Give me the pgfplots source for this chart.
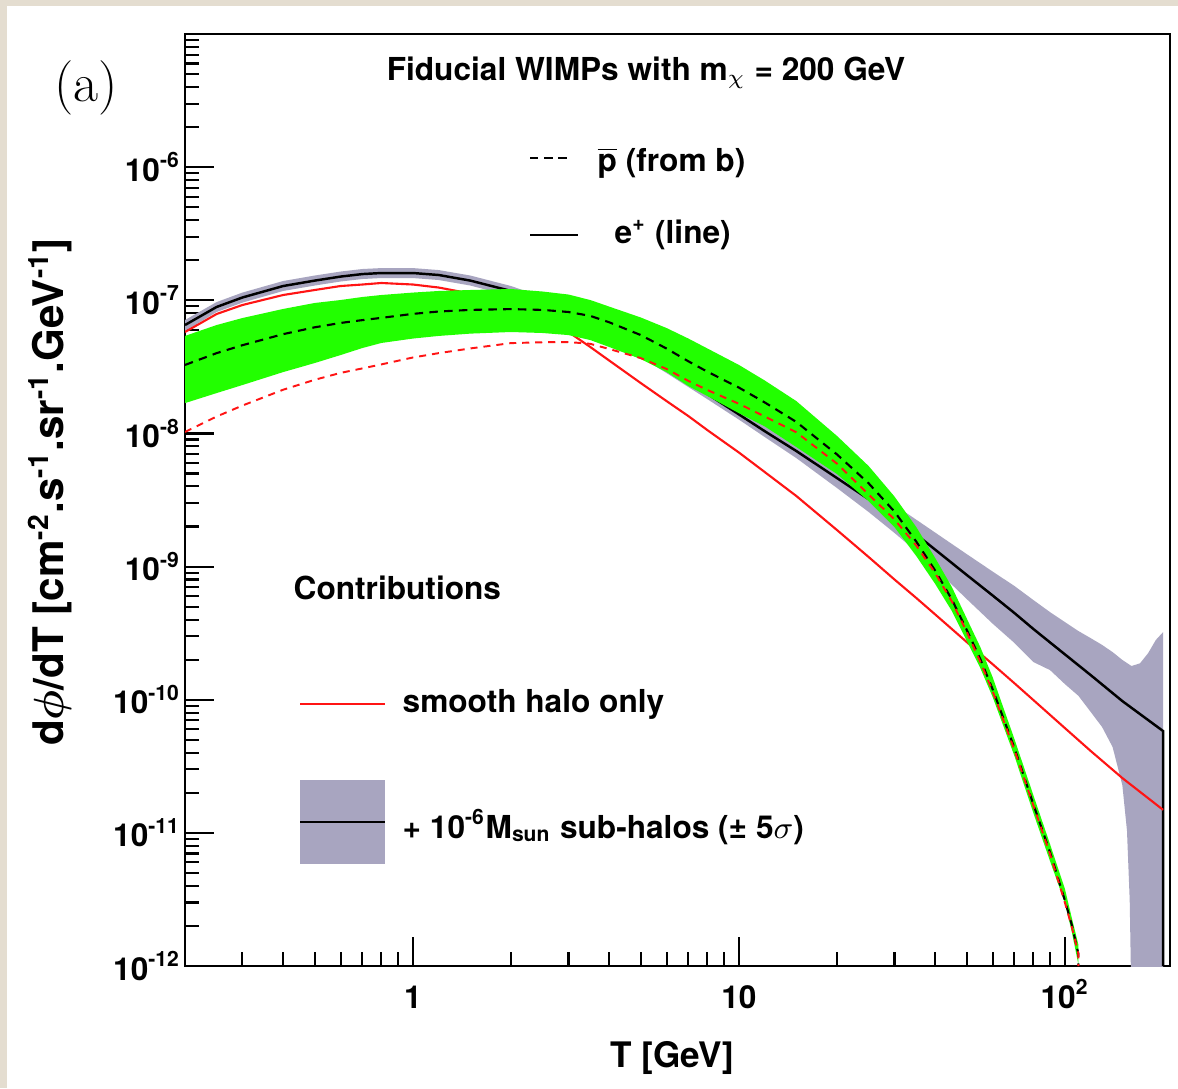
\documentclass[border=0pt]{standalone}
\usepackage{fontspec}
\usepackage{bm}
\usepackage{pgfplots}
\pgfplotsset{compat=1.18}
\newfontfamily\hv{TeX Gyre Heros}
\newcommand\tf{\hv\bfseries\fontsize{9}{10}\selectfont}
\definecolor{paper}{RGB}{228,221,208}
\definecolor{subhalo}{RGB}{168,165,192}
\definecolor{pbarband}{RGB}{34,255,0}
\definecolor{smoothred}{RGB}{255,20,20}

\begin{document}
\begin{tikzpicture}[x=1cm,y=1cm]
% page and its margin
\path[use as bounding box] (0,0) rectangle (11.78,10.88);
\fill[paper] (0,0) rectangle (11.78,10.88);
\fill[white] (0.07,0) rectangle (11.78,10.82);

\begin{axis}[
  at={(1.85cm,1.22cm)}, anchor=south west,
  width=9.85cm, height=9.32cm, scale only axis,
  xmode=log, ymode=log,
  xmin=0.2, xmax=210, ymin=1e-12, ymax=1e-5,
  axis line style={line width=0.75pt},
  tick align=inside, xtick pos=bottom, ytick pos=left,
  major tick length=0.29cm, minor tick length=0.14cm,
  every tick/.style={black, line width=0.6pt},
  xtick={1,10,100},
  xticklabels={1,10,10\textsuperscript{2}},
  minor xtick={0.3,0.4,0.5,0.6,0.7,0.8,0.9,2,3,4,5,6,7,8,9,20,30,40,50,60,70,80,90},
  ytick={1e-12,1e-11,1e-10,1e-9,1e-8,1e-7,1e-6},
  yticklabels={10\textsuperscript{-12},10\textsuperscript{-11},10\textsuperscript{-10},10\textsuperscript{-9},10\textsuperscript{-8},10\textsuperscript{-7},10\textsuperscript{-6}},
  minor ytick={2e-12,3e-12,4e-12,5e-12,6e-12,7e-12,8e-12,9e-12,
               2e-11,3e-11,4e-11,5e-11,6e-11,7e-11,8e-11,9e-11,
               2e-10,3e-10,4e-10,5e-10,6e-10,7e-10,8e-10,9e-10,
               2e-9,3e-9,4e-9,5e-9,6e-9,7e-9,8e-9,9e-9,
               2e-8,3e-8,4e-8,5e-8,6e-8,7e-8,8e-8,9e-8,
               2e-7,3e-7,4e-7,5e-7,6e-7,7e-7,8e-7,9e-7,
               2e-6,3e-6,4e-6,5e-6,6e-6,7e-6,8e-6,9e-6},
  ticklabel style={font=\tf},
  xticklabel style={anchor=base, yshift=-0.42cm},
  yticklabel style={xshift=0.08cm},
]

% e+ with sub-halos: +/- 5 sigma band
\addplot[fill=subhalo, draw=none] coordinates {
 (0.2,7.11e-8) (0.25,9.70e-8) (0.3,1.143e-7) (0.4,1.396e-7) (0.5,1.535e-7)
 (0.6,1.644e-7) (0.7,1.718e-7) (0.8,1.746e-7) (1,1.746e-7) (1.2,1.687e-7)
 (1.5,1.535e-7) (2,1.28e-7) (2.5,1.059e-7) (3,8.67e-8) (3.5,7.23e-8)
 (4,6.14e-8) (5,4.46e-8) (6,3.38e-8) (7,2.65e-8) (8,2.16e-8) (10,1.51e-8)
 (12,1.16e-8) (15,8.34e-9) (20,5.41e-9) (25,3.89e-9) (30,2.90e-9)
 (35,2.25e-9) (40,1.80e-9) (50,1.24e-9) (60,9.18e-10) (70,7.15e-10)
 (80,5.61e-10) (90,4.55e-10) (100,3.83e-10) (110,3.28e-10) (120,2.90e-10)
 (130,2.58e-10) (140,2.28e-10) (150,1.99e-10) (160,1.79e-10) (170,1.88e-10)
 (180,2.24e-10) (190,2.81e-10) (200,3.22e-10)
 (200,5e-13) (160,5e-13)
 (158,3.13e-12) (155,1.04e-11) (150,2.28e-11) (140,4.42e-11) (130,6.24e-11)
 (120,8.09e-11) (110,1.07e-10) (100,1.31e-10) (90,1.67e-10) (80,1.92e-10)
 (70,2.67e-10) (60,3.73e-10) (50,5.70e-10) (40,9.66e-10) (35,1.30e-9)
 (30,1.79e-9) (25,2.57e-9) (20,3.89e-9) (15,6.53e-9) (12,9.40e-9)
 (10,1.27e-8) (8,1.81e-8) (7,2.23e-8) (6,2.84e-8) (5,3.75e-8) (4,5.16e-8)
 (3.5,6.08e-8) (3,7.30e-8) (2.5,8.91e-8) (2,1.076e-7) (1.5,1.291e-7)
 (1.2,1.42e-7) (1,1.470e-7) (0.8,1.470e-7) (0.7,1.445e-7) (0.6,1.384e-7)
 (0.5,1.291e-7) (0.4,1.175e-7) (0.3,9.61e-8) (0.25,8.17e-8) (0.2,5.87e-8)
} -- cycle;

% e+ with sub-halos: central line
\addplot[black, line width=0.7pt] coordinates {
 (0.2,6.52e-8) (0.25,8.91e-8) (0.3,1.05e-7) (0.4,1.28e-7) (0.5,1.406e-7)
 (0.6,1.507e-7) (0.7,1.574e-7) (0.8,1.603e-7) (1,1.603e-7) (1.2,1.549e-7)
 (1.5,1.406e-7) (2,1.175e-7) (2.5,9.70e-8) (3,7.96e-8) (3.5,6.64e-8)
 (4,5.62e-8) (5,4.09e-8) (6,3.10e-8) (7,2.43e-8) (8,1.98e-8) (10,1.39e-8)
 (12,1.04e-8) (15,7.38e-9) (20,4.62e-9) (25,3.21e-9) (30,2.32e-9)
 (35,1.74e-9) (40,1.34e-9) (50,8.65e-10) (60,6.07e-10) (70,4.48e-10)
 (80,3.40e-10) (100,2.19e-10) (120,1.53e-10) (150,9.77e-11) (200,5.82e-11)
 (200,1e-12)
};

% e+ from the smooth halo only
\addplot[smoothred, line width=0.6pt] coordinates {
 (0.2,5.78e-8) (0.25,7.89e-8) (0.3,9.22e-8) (0.4,1.096e-7) (0.5,1.195e-7)
 (0.6,1.28e-7) (0.7,1.314e-7) (0.8,1.349e-7) (1,1.314e-7) (1.2,1.247e-7)
 (1.5,1.125e-7) (2,9.22e-8) (2.5,7.36e-8) (3,5.78e-8) (3.5,4.46e-8)
 (4,3.53e-8) (5,2.39e-8) (6,1.75e-8) (7,1.35e-8) (8,1.06e-8) (10,7.19e-9)
 (12,5.13e-9) (15,3.39e-9) (20,1.88e-9) (25,1.18e-9) (30,8.0e-10)
 (35,5.81e-10) (40,4.37e-10) (50,2.71e-10) (60,1.85e-10) (70,1.33e-10)
 (80,9.95e-11) (100,6.12e-11) (120,4.12e-11) (150,2.58e-11) (200,1.49e-11)
};

% antiprotons with sub-halos: +/- 5 sigma band
\addplot[fill=pbarband, draw=none] coordinates {
 (0.2,5.40e-8) (0.25,6.52e-8) (0.3,7.36e-8) (0.4,8.61e-8) (0.5,9.55e-8)
 (0.6,1.005e-7) (0.7,1.059e-7) (0.8,1.096e-7) (1,1.143e-7) (1.2,1.175e-7)
 (1.5,1.195e-7) (2,1.216e-7) (2.5,1.164e-7) (3,1.105e-7) (3.5,1.005e-7)
 (4,8.97e-8) (5,7.43e-8) (6,6.19e-8) (7,5.16e-8) (8,4.35e-8) (10,3.27e-8)
 (12,2.50e-8) (15,1.75e-8) (20,9.57e-9) (25,5.69e-9) (30,3.36e-9)
 (35,1.98e-9) (40,1.16e-9) (45,7.02e-10) (50,4.07e-10) (55,2.49e-10)
 (60,1.48e-10) (70,5.07e-11) (80,1.92e-11) (90,8.24e-12) (100,3.79e-12)
 (105,2.29e-12) (110,1.44e-12)
 (110,1.02e-12) (105,1.80e-12) (100,2.97e-12) (90,6.14e-12) (80,1.41e-11)
 (70,3.78e-11) (60,1.05e-10) (55,1.73e-10) (50,2.76e-10) (45,4.63e-10)
 (40,7.40e-10) (35,1.20e-9) (30,1.98e-9) (25,3.10e-9) (20,4.95e-9)
 (15,7.91e-9) (12,1.13e-8) (10,1.42e-8) (8,1.91e-8) (7,2.27e-8) (6,2.89e-8)
 (5,3.62e-8) (4,4.46e-8) (3.5,5.03e-8) (3,5.48e-8) (2.5,5.68e-8) (2,5.78e-8)
 (1.5,5.62e-8) (1.2,5.40e-8) (1,5.16e-8) (0.8,4.78e-8) (0.7,4.38e-8)
 (0.6,3.88e-8) (0.5,3.38e-8) (0.4,2.89e-8) (0.3,2.31e-8) (0.25,2.01e-8)
 (0.2,1.69e-8)
} -- cycle;

% antiprotons with sub-halos: central line
\addplot[black, line width=0.6pt, dash pattern=on 2.4pt off 1.8pt] coordinates {
 (0.2,3.27e-8) (0.25,4.01e-8) (0.3,4.60e-8) (0.4,5.57e-8) (0.5,6.27e-8)
 (0.6,6.76e-8) (0.7,7.10e-8) (0.8,7.38e-8) (1,7.91e-8) (1.2,8.24e-8)
 (1.5,8.47e-8) (2,8.59e-8) (2.5,8.47e-8) (3,8.17e-8) (3.5,7.64e-8)
 (4,6.84e-8) (5,5.48e-8) (6,4.34e-8) (7,3.48e-8) (8,2.91e-8) (10,2.21e-8)
 (12,1.71e-8) (15,1.22e-8) (20,6.95e-9) (25,4.22e-9) (30,2.59e-9)
 (35,1.54e-9) (40,9.33e-10) (45,5.66e-10) (50,3.34e-10) (55,2.02e-10)
 (60,1.20e-10) (70,4.34e-11) (80,1.64e-11) (90,7.15e-12) (100,3.10e-12)
 (105,2.03e-12) (110,1.23e-12) (110,1e-12)
};

% antiprotons from the smooth halo only
\addplot[smoothred, line width=0.55pt, dash pattern=on 2pt off 1.7pt] coordinates {
 (0.2,1.026e-8) (0.25,1.34e-8) (0.3,1.62e-8) (0.4,2.13e-8) (0.5,2.53e-8)
 (0.6,2.85e-8) (0.7,3.08e-8) (0.8,3.30e-8) (1,3.72e-8) (1.2,4.01e-8)
 (1.5,4.35e-8) (2,4.77e-8) (2.5,4.84e-8) (3,4.86e-8) (3.5,4.71e-8)
 (4,4.31e-8) (5,3.68e-8) (6,3.05e-8) (7,2.48e-8) (8,2.12e-8) (10,1.67e-8)
 (12,1.34e-8) (15,1.02e-8) (20,5.93e-9) (25,3.48e-9) (30,2.26e-9)
 (35,1.44e-9) (40,8.93e-10) (45,5.47e-10) (50,3.23e-10) (55,1.93e-10)
 (60,1.16e-10) (70,4.20e-11) (80,1.61e-11) (90,6.93e-12) (100,2.99e-12)
 (105,1.96e-12) (110,1.23e-12) (110,1e-12)
};
\end{axis}

% panel tag and axis titles
\node[font=\fontsize{15.5}{17}\selectfont] at (0.86,10.0) {(a)};
\node[font=\hv\bfseries\fontsize{10}{12}\selectfont] at (6.72,0.30) {T [GeV]};
\node[rotate=90, font=\hv\bfseries\fontsize{12}{14}\selectfont] at (0.50,5.96)
  {d$\bm{\phi}$/dT [cm\textsuperscript{-2}.s\textsuperscript{-1}.sr\textsuperscript{-1}.GeV\textsuperscript{-1}]};

% title and species key
\node[anchor=base, font=\tf] at (6.46,10.07) {Fiducial WIMPs with m\textsubscript{$\chi$} = 200 GeV};
\draw[black, line width=0.55pt, dash pattern=on 2.4pt off 1.6pt] (5.30,9.30) -- (5.72,9.30);
\node[anchor=base west, inner sep=0pt, font=\tf] at (5.97,9.16) {$\overline{\mbox{p}}$ (from b)};
\draw[black, line width=0.55pt] (5.30,8.53) -- (5.78,8.53);
\node[anchor=base west, inner sep=0pt, font=\tf] at (6.14,8.44) {e\textsuperscript{+} (line)};

% contributions key
\node[anchor=base west, inner sep=0pt, font=\tf] at (2.93,4.88) {Contributions};
\draw[smoothred, line width=0.6pt] (3.00,3.84) -- (3.85,3.84);
\node[anchor=base west, inner sep=0pt, font=\tf] at (4.02,3.75) {smooth halo only};
\fill[subhalo] (3.00,2.24) rectangle (3.85,3.08);
\draw[black, line width=0.6pt] (3.00,2.66) -- (3.85,2.66);
\node[anchor=base west, inner sep=0pt, font=\tf] at (4.02,2.50)
  {+ 10\textsuperscript{-6}M\textsubscript{sun} sub-halos (± 5$\sigma$)};
\end{tikzpicture}
\end{document}
